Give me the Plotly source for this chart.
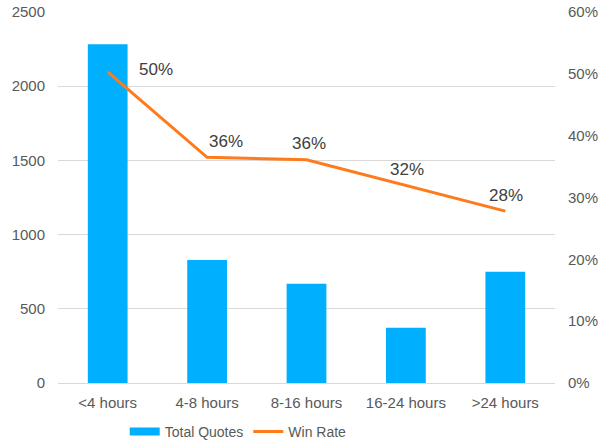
import plotly.graph_objects as go

categories = ["<4 hours", "4-8 hours", "8-16 hours", "16-24 hours", ">24 hours"]
total_quotes = [2283, 828, 668, 372, 749]
win_rate = [0.503, 0.365, 0.361, 0.32, 0.278]
win_labels = ["50%", "36%", "36%", "32%", "28%"]

font_family = "Liberation Sans, Arial, sans-serif"
grey = "#595959"
bar_color = "#00B0FF"

fig = go.Figure()
fig.add_trace(go.Bar(x=categories, y=total_quotes, name="Total Quotes",
                     marker=dict(color=bar_color, line=dict(width=0)), yaxis="y",
                     showlegend=False))
# legend entry with a wide rectangular swatch for the bars
fig.add_trace(go.Scatter(x=[None], y=[None], name="Total Quotes", mode="lines",
                         line=dict(color=bar_color, width=8), yaxis="y"))
fig.add_trace(go.Scatter(x=categories, y=win_rate, name="Win Rate", mode="lines",
                         line=dict(color="#FF7A1A", width=3), yaxis="y2"))

shifts = [(48, 2), (19, 16), (2, 16), (1, 16), (1, 16)]
for c, v, t, (dx, dy) in zip(categories, win_rate, win_labels, shifts):
    fig.add_annotation(x=c, y=v, xref="x", yref="y2", text=t, showarrow=False,
                       xshift=dx, yshift=dy, font=dict(size=17, color="#404040", family=font_family))

fig.update_layout(
    width=600, height=443,
    margin=dict(l=58, r=45, t=12, b=60, autoexpand=False),
    paper_bgcolor="white", plot_bgcolor="white",
    bargap=0.6,
    font=dict(family=font_family, color=grey, size=15),
    showlegend=True,
    legend=dict(orientation="h", x=0.397, xanchor="center", y=0.025, yanchor="middle",
                yref="container", xref="container",
                font=dict(size=14, color=grey), itemwidth=30, tracegroupgap=0),
    xaxis=dict(showgrid=False, showline=True, linecolor="#D9D9D9", linewidth=1,
               ticks="", tickfont=dict(size=15, color=grey), automargin=False,
               ticklabelstandoff=6),
    yaxis=dict(range=[0, 2500], dtick=500, showgrid=True, gridcolor="#D9D9D9",
               gridwidth=1, zeroline=False, ticks="", tickfont=dict(size=15, color=grey),
               automargin=False, ticklabelstandoff=12),
    yaxis2=dict(range=[0, 0.6], dtick=0.1, tickformat=".0%", overlaying="y", side="right",
                showgrid=False, zeroline=False, ticks="", tickfont=dict(size=15, color=grey),
                automargin=False, ticklabelstandoff=12),
)

fig.write_html("out.html")
